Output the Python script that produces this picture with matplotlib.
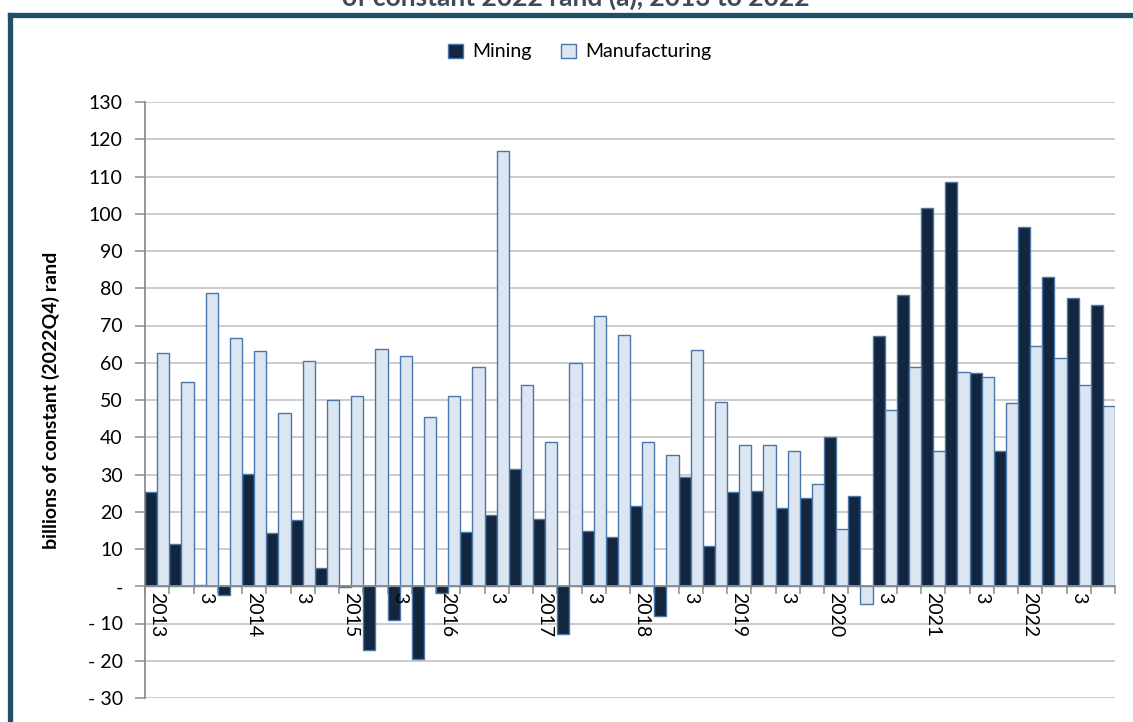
import numpy as np
import matplotlib
matplotlib.use("Agg")
import matplotlib.pyplot as plt
from matplotlib.lines import Line2D
from matplotlib.patches import Patch

# valores por trimestre, 2013Q1 .. 2022Q4
mining = [25.2, 11.4, 0.3, -2.4, 30.1, 14.3, 17.9, 4.9,
          -0.2, -17.2, -9.0, -19.5, -1.7, 14.6, 19.2, 31.6,
          18.1, -12.7, 14.9, 13.2, 21.6, -8.0, 29.4, 10.8,
          25.4, 25.6, 21.1, 23.7, 40.0, 24.1, 67.1, 78.3,
          101.5, 108.5, 57.2, 36.2, 96.4, 82.9, 77.3, 75.4]
manufacturing = [62.7, 54.7, 78.7, 66.6, 63.1, 46.6, 60.6, 50.0,
                 51.0, 63.8, 61.8, 45.4, 51.2, 58.8, 116.8, 54.0,
                 38.8, 59.9, 72.6, 67.4, 38.8, 35.2, 63.4, 49.5,
                 38.0, 37.9, 36.3, 27.4, 15.3, -4.7, 47.2, 58.8,
                 36.3, 57.5, 56.3, 49.2, 64.5, 61.3, 54.0, 48.4]
years = ["2013", "2014", "2015", "2016", "2017", "2018", "2019", "2020", "2021", "2022"]
etiquetas = []
for y in years:
    etiquetas += [y, "", "3", ""]

y_ticks = list(range(-30, 131, 10))
y_labels = [("- %d" % -v) if v < 0 else ("-" if v == 0 else str(v)) for v in y_ticks]

plt.rcParams["font.family"] = ["Lato", "DejaVu Sans"]

fig = plt.figure(figsize=(11.33, 7.22), dpi=100)
ax = fig.add_axes([145 / 1133, 1 - 698 / 722, 970 / 1133, 596 / 722])

x = np.arange(len(mining))
ax.bar(x - 0.25, mining, width=0.5, color="#12263f", edgecolor="#4a76a8", linewidth=1.0, zorder=3)
ax.bar(x + 0.25, manufacturing, width=0.5, color="#dce6f2", edgecolor="#4a76a8", linewidth=1.0, zorder=3)

ax.set_xlim(-0.5, len(mining) - 0.5)
ax.set_ylim(-30, 130)
ax.set_yticks(y_ticks)
ax.set_yticklabels(y_labels, fontsize=14)
ax.yaxis.grid(True, color="#c8c8c8", linewidth=1.3, zorder=0)
ax.set_axisbelow(True)

ax.spines["top"].set_visible(False)
ax.spines["right"].set_visible(False)
ax.spines["left"].set_color("#8c8c8c")
ax.spines["left"].set_linewidth(1.3)
ax.spines["bottom"].set_position(("data", 0))
ax.spines["bottom"].set_color("#8c8c8c")
ax.spines["bottom"].set_linewidth(1.3)
ax.spines["bottom"].set_zorder(4)

ax.set_xticks(np.arange(-0.5, len(mining), 1.0))
ax.set_xticklabels([])
ax.tick_params(axis="x", direction="out", length=6, color="#8c8c8c", width=1.1)
ax.tick_params(axis="y", direction="out", length=7, color="#8c8c8c", width=1.1, pad=9)

# etiquetas del eje x giradas
for i, lab in enumerate(etiquetas):
    if lab:
        ax.text(i, -1.6, lab, rotation=270, ha="center", va="top", fontsize=14, zorder=5)

ax.set_ylabel("billions of constant (2022Q4) rand", fontsize=14, fontweight="bold", labelpad=20)

handles = [Patch(facecolor="#12263f", edgecolor="#4a76a8"),
           Patch(facecolor="#dce6f2", edgecolor="#4a76a8")]
fig.legend(handles, ["Mining", "Manufacturing"], loc="center", bbox_to_anchor=(580 / 1133, 1 - 52 / 722),
           ncol=2, frameon=False, fontsize=14, handlelength=0.75, handleheight=0.75, columnspacing=1.5,
           handletextpad=0.5)

# titulo cortado arriba, como en el original
fig.text(576 / 1133, 1 - 6 / 722, "of constant 2022 rand (a), 2013 to 2022", ha="center", va="baseline",
         fontsize=19, fontweight="bold", color="#3f4a5c")

# marco
fig.add_artist(Line2D([10.5 / 1133, 10.5 / 1133], [0, 1 - 15 / 722], color="#1f5068", linewidth=3.8,
                      solid_capstyle="projecting"))
fig.add_artist(Line2D([10.5 / 1133, 1], [1 - 15 / 722, 1 - 15 / 722], color="#1f5068", linewidth=3.8,
                      solid_capstyle="projecting"))

fig.savefig("out.png", dpi=100)
